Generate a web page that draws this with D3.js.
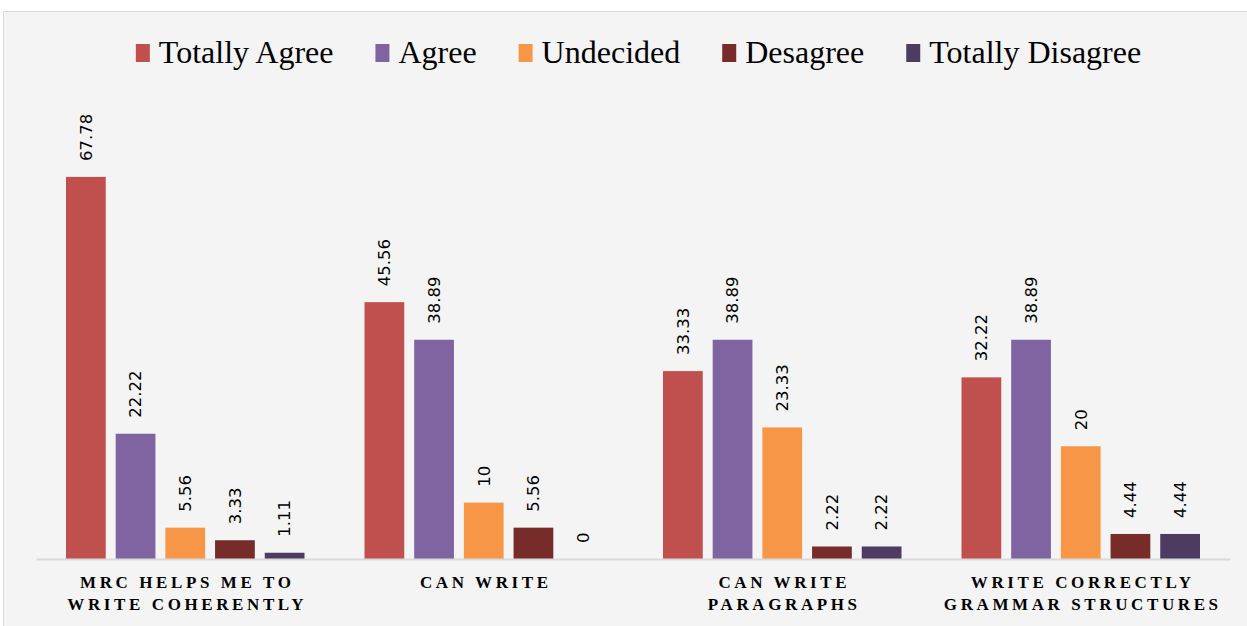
<!DOCTYPE html>
<html>
<head>
<meta charset="utf-8">
<script src="https://cdn.jsdelivr.net/npm/d3@7"></script>
<style>
  body { margin:0; background:#ffffff; }
  svg { display:block; }
</style>
</head>
<body>
<svg id="chart"></svg>
<script>
var categories = [
    ["MRC HELPS ME TO", "WRITE COHERENTLY"],
    ["CAN WRITE"],
    ["CAN WRITE", "PARAGRAPHS"],
    ["WRITE CORRECTLY", "GRAMMAR STRUCTURES"]
];
var seriesNames = ["Totally Agree", "Agree", "Undecided", "Desagree", "Totally Disagree"];
var seriesColors = ["#c0504d", "#8064a2", "#f79646", "#772c2a", "#4d3b62"];
var totallyAgree = [67.78, 45.56, 33.33, 32.22];
var agree = [22.22, 38.89, 38.89, 38.89];
var undecided = [5.56, 10, 23.33, 20];
var desagree = [3.33, 5.56, 2.22, 4.44];
var totallyDisagree = [1.11, 0, 2.22, 4.44];

var allSeries = [totallyAgree, agree, undecided, desagree, totallyDisagree];

var screen = {width:1247, height:626};
var margins = {top:108, bottom:67, left:36, right:17};
var graph = {
    width: screen.width - margins.left - margins.right,
    height: screen.height - margins.top - margins.bottom
};

var svg = d3.select("#chart")
    .attr("width", screen.width)
    .attr("height", screen.height);

// panel background + border
svg.append("rect")
    .attr("x", 3.5).attr("y", 11.5)
    .attr("width", screen.width)
    .attr("height", screen.height)
    .attr("fill", "#f4f4f4")
    .attr("stroke", "#d9d9d9")
    .attr("stroke-width", 1);

var g = svg.append("g")
    .attr("transform", "translate(" + margins.left + "," + margins.top + ")");

var xScale = d3.scaleBand()
    .domain(d3.range(categories.length))
    .range([0, graph.width]);

var inner = d3.scaleBand()
    .domain(d3.range(seriesNames.length))
    .range([30, xScale.bandwidth() - 30])
    .paddingInner(0.2);

var yScale = d3.scaleLinear()
    .domain([0, 80])
    .range([graph.height, 0]);

// bars
var groups = g.selectAll(".cat")
    .data(categories)
    .enter()
    .append("g")
    .attr("transform", function(d, i){ return "translate(" + xScale(i) + ",0)"; });

groups.each(function(d, ci) {
    var grp = d3.select(this);
    var vals = allSeries.map(function(s){ return s[ci]; });
    grp.selectAll("rect")
        .data(vals)
        .enter()
        .append("rect")
        .attr("x", function(v, si){ return inner(si); })
        .attr("y", function(v){ return yScale(v); })
        .attr("width", inner.bandwidth())
        .attr("height", function(v){ return graph.height - yScale(v); })
        .attr("fill", function(v, si){ return seriesColors[si]; });

    grp.selectAll("text.val")
        .data(vals)
        .enter()
        .append("text")
        .attr("class", "val")
        .attr("transform", function(v, si){
            return "translate(" + (inner(si) + inner.bandwidth()/2) + "," + (yScale(v) - 16) + ") rotate(-90)";
        })
        .attr("dy", "0.35em")
        .attr("text-anchor", "start")
        .style("font-family", "DejaVu Sans, sans-serif")
        .style("font-size", "16.5px")
        .attr("fill", "#000")
        .text(function(v){ return v; });
});

// axis
var xAxis = d3.axisBottom(xScale).tickSize(0).tickFormat("");
var axisG = g.append("g")
    .attr("transform", "translate(0," + graph.height + ")")
    .call(xAxis);
axisG.select(".domain").attr("stroke", "#d9d9d9").attr("stroke-width", 2);

// category labels
categories.forEach(function(lines, i) {
    var t = g.append("text")
        .attr("x", xScale(i) + xScale.bandwidth()/2)
        .attr("y", graph.height + 29)
        .attr("text-anchor", "middle")
        .style("font-family", "Liberation Serif, serif")
        .style("font-weight", "bold")
        .style("font-size", "17px")
        .style("letter-spacing", "3.6px")
        .attr("fill", "#000");
    lines.forEach(function(line, li) {
        t.append("tspan")
            .attr("x", xScale(i) + xScale.bandwidth()/2 + 2)
            .attr("dy", li == 0 ? 0 : 22)
            .text(line);
    });
});

// legend
var legend = svg.append("g");
var lx = 0;
seriesNames.forEach(function(name, i) {
    var item = legend.append("g");
    item.append("rect")
        .attr("x", 0).attr("y", 44)
        .attr("width", 14).attr("height", 18)
        .attr("fill", seriesColors[i]);
    var txt = item.append("text")
        .attr("x", 23).attr("y", 63)
        .style("font-family", "Liberation Serif, serif")
        .style("font-size", "32px")
        .attr("fill", "#000")
        .text(name);
    var w = 23 + txt.node().getComputedTextLength();
    item.attr("transform", "translate(" + lx + ",0)");
    lx += w + 42;
});
var totalW = lx - 42;
legend.attr("transform", "translate(" + (638.5 - totalW/2) + ",0)");
</script>
</body>
</html>
